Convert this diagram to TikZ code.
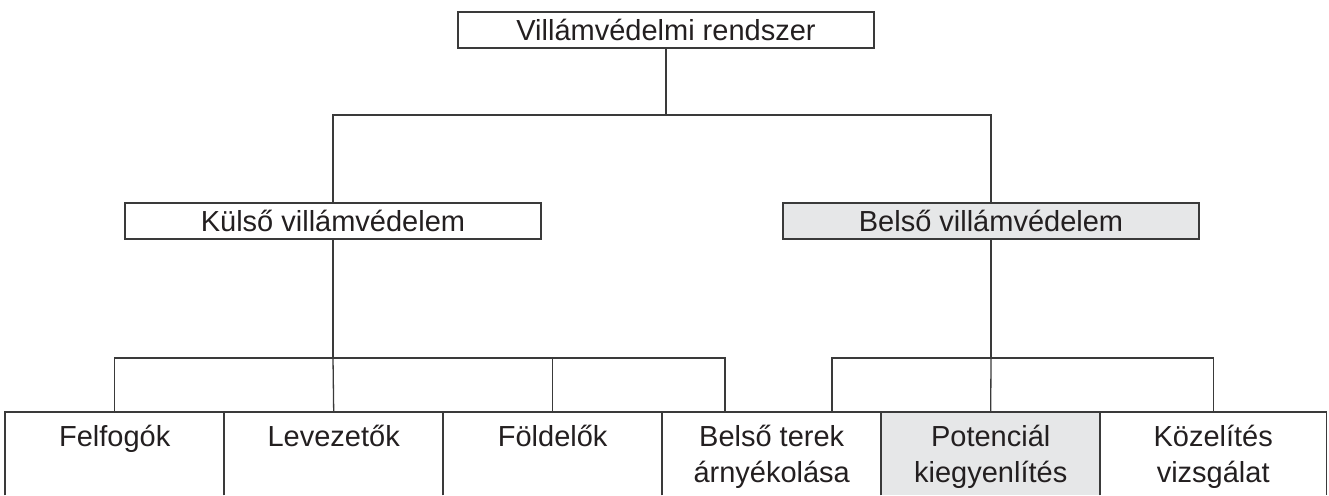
\documentclass[tikz,border=0pt]{standalone}
\usepackage{fontspec}
\setmainfont{Liberation Sans}
\usetikzlibrary{calc}
\definecolor{boxgray}{HTML}{E6E7E8}
\definecolor{ink}{HTML}{231F20}
\definecolor{linec}{HTML}{3A3A3A}
\begin{document}
\begin{tikzpicture}[x=1pt,y=-1pt,
  txt/.style={text=ink, font=\fontsize{29}{36}\selectfont},
  box/.style={txt, draw=linec, line width=1.3pt, minimum width=416pt, minimum height=36pt, inner sep=0pt},
  shaded/.style={fill=boxgray},
  cell/.style={minimum height=83pt, inner sep=0pt, anchor=north west},
  lbl/.style={txt, anchor=base, align=center, inner sep=0pt},
  conn/.style={draw=linec, line width=1.3pt}]
\useasboundingbox (0,0) rectangle (1329,495);
% top levels
\node[box] (root) at (666,30) {Villámvédelmi rendszer};
\node[box] (kulso) at (333,221) {Külső villámvédelem};
\node[box, shaded] (belso) at (991,221) {Belső villámvédelem};
% bottom cells (open at the bottom)
\node[cell, minimum width=219pt] (c1) at (5,412) {};
\node[cell, minimum width=219pt] (c2) at (224,412) {};
\node[cell, minimum width=219pt] (c3) at (443,412) {};
\node[cell, minimum width=219pt] (c4) at (662,412) {};
\node[cell, minimum width=219pt, fill=boxgray] (c5) at (881,412) {};
\node[cell, minimum width=226pt] (c6) at (1100,412) {};
\foreach \c in {c1,c2,c3,c4,c5,c6}{
  \draw[conn] (\c.south west) |- (\c.north east) -- (\c.south east);
}
% labels
\node[lbl] (l1) at ($(c1.north)+(0,34)$) {Felfogók};
\node[lbl] (l2) at ($(c2.north)+(0,34)$) {Levezetők};
\node[lbl] (l3) at ($(c3.north)+(0,34)$) {Földelők};
\node[lbl] (l4) at ($(c4.north)+(0,70)$) {Belső terek\\árnyékolása};
\node[lbl] (l5) at ($(c5.north)+(0,70)$) {Potenciál\\kiegyenlítés};
\node[lbl] (l6) at ($(c6.north)+(0,70)$) {Közelítés\\vizsgálat};
% connectors
\coordinate (tb) at (666,115);
\coordinate (kb) at (333,358);
\coordinate (bb) at (991,358);
\draw[conn] (root.south) -- (tb);
\draw[conn] (kulso.north) |- (tb);
\draw[conn] (belso.north) |- (tb);
\draw[conn] (kulso.south) -- (kb);
\draw[conn] (c1.north) |- (kb);
\draw[conn] (c2.north) -- (kb);
\draw[conn] (c3.north) |- (kb);
\draw[conn] ($(c4.north west)+(63,0)$) |- (kb);
\draw[conn] (belso.south) -- (bb);
\draw[conn] ($(c4.north west)+(170,0)$) |- (bb);
\draw[conn] (c5.north) -- (bb);
\draw[conn] (c6.north) |- (bb);
\end{tikzpicture}
\end{document}
